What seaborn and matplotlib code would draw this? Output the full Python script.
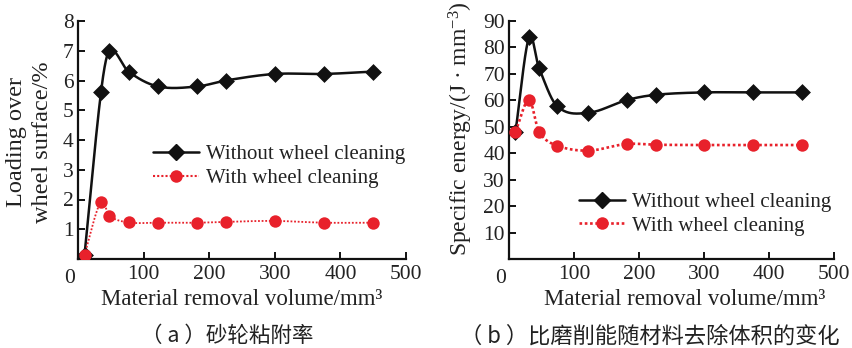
import numpy as np
import pandas as pd
import matplotlib
matplotlib.use("Agg")
import matplotlib.pyplot as plt
from matplotlib.lines import Line2D
import seaborn as sns

# ---- data ----
vol_a = [10, 35, 48, 77, 122, 182, 225, 300, 375, 450]
load_without = [0.15, 5.6, 7.0, 6.3, 5.8, 5.8, 6.0, 6.22, 6.22, 6.3]
load_with = [0.15, 1.93, 1.45, 1.23, 1.22, 1.22, 1.25, 1.28, 1.22, 1.22]

vol_b = [10, 31, 46, 74, 122, 181, 226, 300, 375, 451]
energy_without = [48.2, 84.0, 72.4, 57.8, 55.3, 60.1, 62.1, 63.0, 63.0, 63.0]
energy_with = [48.2, 60.2, 48.2, 42.9, 41.0, 43.5, 43.2, 43.1, 43.1, 43.1]

series_names = ["Without wheel cleaning", "With wheel cleaning"]
x_label = "Material removal volume/mm³"
y_label_a = "Loading over\nwheel surface/%"
y_label_b = r"Specific energy/(J · mm$^{-3}$)"
caption_a = "（ a ）砂轮粘附率"
caption_b = "（ b ）比磨削能随材料去除体积的变化"
x_ticks = [100, 200, 300, 400, 500]
y_ticks_a = [1, 2, 3, 4, 5, 6, 7, 8]
y_ticks_b = [10, 20, 30, 40, 50, 60, 70, 80, 90]

BLACK = "#111111"
RED = "#e8212b"
TEXT = "#222222"

sns.set_theme(style="ticks")
plt.rcParams["font.family"] = ["Liberation Serif", "DejaVu Serif"]
plt.rcParams["mathtext.fontset"] = "custom"
plt.rcParams["mathtext.rm"] = "Liberation Serif"
plt.rcParams["mathtext.it"] = "Liberation Serif"


def smooth(x, y, n=40):
    """Cubic Hermite curve through the points (finite-difference slopes)."""
    x = np.asarray(x, float)
    y = np.asarray(y, float)
    m = np.empty_like(y)
    m[0] = (y[1] - y[0]) / (x[1] - x[0])
    m[-1] = (y[-1] - y[-2]) / (x[-1] - x[-2])
    m[1:-1] = (y[2:] - y[:-2]) / (x[2:] - x[:-2])
    xs, ys = [], []
    for i in range(len(x) - 1):
        h = x[i + 1] - x[i]
        t = np.linspace(0, 1, n, endpoint=(i == len(x) - 2))
        h00 = 2 * t**3 - 3 * t**2 + 1
        h10 = t**3 - 2 * t**2 + t
        h01 = -2 * t**3 + 3 * t**2
        h11 = t**3 - t**2
        xs.append(x[i] + t * h)
        ys.append(h00 * y[i] + h10 * h * m[i] + h01 * y[i + 1] + h11 * h * m[i + 1])
    return pd.DataFrame({"x": np.concatenate(xs), "y": np.concatenate(ys)})


fig = plt.figure(figsize=(8.53, 3.48), dpi=100)
ax_a = fig.add_axes([78 / 853, 1 - 259 / 348, 328 / 853, 238 / 348])
ax_b = fig.add_axes([509 / 853, 1 - 259 / 348, 325 / 853, 238 / 348])


def draw(ax, x, y_without, y_with, red_lw, ylim, yticks):
    cw = smooth(x, y_without)
    cr = smooth(x, y_with)
    sns.lineplot(data=cw, x="x", y="y", ax=ax, color=BLACK, lw=1.8,
                 sort=False, estimator=None, zorder=2)
    sns.lineplot(data=cr, x="x", y="y", ax=ax, color=RED, lw=red_lw,
                 linestyle=(0, (1, 1)), sort=False, estimator=None, zorder=3)
    sns.scatterplot(x=x, y=y_without, ax=ax, marker="D", s=65, color=BLACK,
                    edgecolor=BLACK, linewidth=0.5, zorder=4)
    sns.scatterplot(x=x, y=y_with, ax=ax, marker="o", s=80, color=RED,
                    edgecolor=RED, linewidth=0, zorder=5)
    ax.set_xlim(0, 500)
    ax.set_ylim(*ylim)
    ax.set_xticks(x_ticks)
    ax.set_yticks(yticks)
    sns.despine(ax=ax)
    for s in ("left", "bottom"):
        ax.spines[s].set_linewidth(1.6)
        ax.spines[s].set_color(BLACK)
    ax.tick_params(axis="both", direction="in", length=5, width=1.4,
                   color=BLACK, labelsize=15.5, labelcolor=TEXT)
    ax.tick_params(axis="x", pad=4.5)
    ax.tick_params(axis="y", pad=3)
    ax.annotate("0", xy=(0, 0), xycoords="data", xytext=(-6, -14),
                textcoords="offset points", ha="center", va="center",
                fontsize=15.5, color=TEXT)
    ax.set_xlabel(x_label, fontsize=16.5, color=TEXT)
    ax.xaxis.label.set_va("center")
    ax.set_ylabel("")


draw(ax_a, vol_a, load_without, load_with, 1.3, (0, 8), y_ticks_a)
draw(ax_b, vol_b, energy_without, energy_with, 1.9, (0, 90), y_ticks_b)

ax_a.xaxis.set_label_coords(0.5, -0.172)
ax_b.xaxis.set_label_coords(0.54, -0.172)

ax_a.set_ylabel(y_label_a, fontsize=17.5, color=TEXT, linespacing=1.3)
ax_a.yaxis.label.set_va("center")
ax_a.yaxis.set_label_coords(-0.148, 0.49)
ax_b.set_ylabel(y_label_b, fontsize=17, color=TEXT)
ax_b.yaxis.label.set_va("center")
ax_b.yaxis.set_label_coords(-0.148, 0.546)


def legend(ax, red_lw, anchor):
    handles = [
        Line2D([], [], color=BLACK, lw=1.8, marker="D", markersize=8),
        Line2D([], [], color=RED, lw=red_lw, linestyle=(0, (1, 1)),
               marker="o", markersize=9, markeredgewidth=0),
    ]
    ax.legend(handles, series_names, loc="upper left", bbox_to_anchor=anchor,
              frameon=False, fontsize=15, handlelength=2.2,
              handletextpad=0.35, borderpad=0, borderaxespad=0,
              labelspacing=0.2, labelcolor=TEXT)


legend(ax_a, 1.5, (0.228, 0.48))
legend(ax_b, 1.9, (0.215, 0.28))

fig.text(227 / 853, 1 - 336 / 348, caption_a, ha="center", va="center",
         fontsize=15.5, family=["Noto Sans CJK SC", "DejaVu Sans"], color=TEXT)
fig.text(650 / 853, 1 - 336 / 348, caption_b, ha="center", va="center",
         fontsize=16, family=["Noto Sans CJK SC", "DejaVu Sans"], color=TEXT)

fig.savefig("out.png", dpi=100)
